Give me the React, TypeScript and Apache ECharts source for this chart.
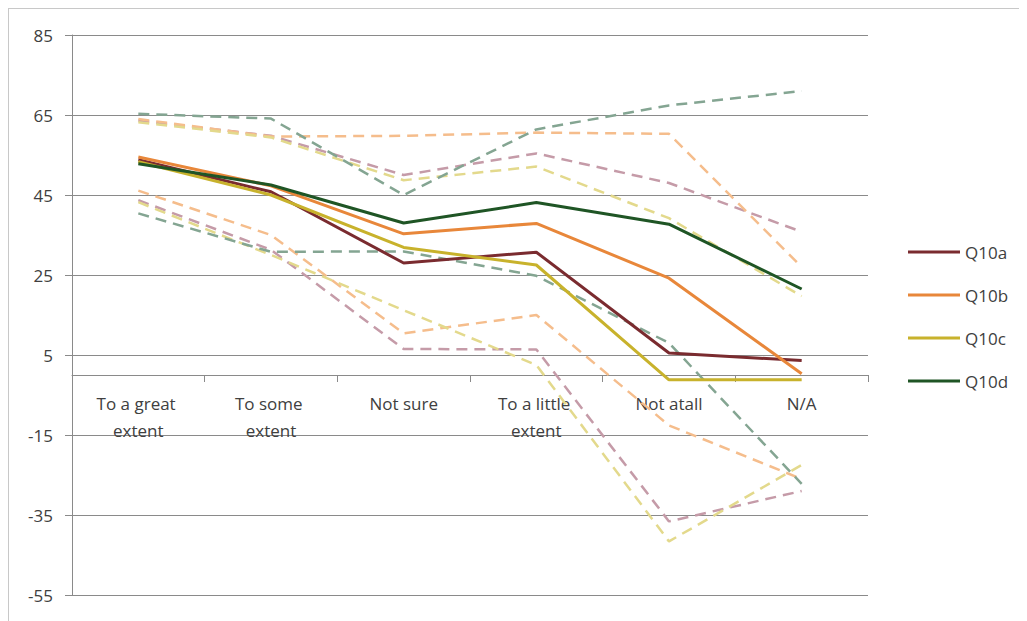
import React, { useEffect, useRef } from "react";
import * as echarts from "echarts";

const categories = ["To a great extent", "To some extent", "Not sure", "To a little extent", "Not atall", "N/A"];

const q10a = [53.8, 45.8, 28.0, 30.7, 5.5, 3.6];
const q10b = [54.5, 47.3, 35.3, 37.9, 24.2, 0.3];
const q10c = [53.3, 45.0, 31.9, 27.5, -1.2, -1.2];
const q10d = [52.8, 47.5, 38.0, 43.1, 37.7, 21.5];

const q10aUpper = [63.6, 59.8, 50.0, 55.4, 48.0, 35.8];
const q10bUpper = [64.0, 59.6, 59.8, 60.6, 60.3, 27.0];
const q10cUpper = [63.2, 59.4, 48.7, 52.1, 39.2, 19.7];
const q10dUpper = [65.3, 64.1, 45.0, 61.4, 67.4, 71.0];

const q10aLower = [43.7, 31.3, 6.5, 6.4, -36.6, -29.0];
const q10bLower = [46.1, 35.0, 10.4, 15.0, -12.6, -26.0];
const q10cLower = [43.2, 30.0, 16.2, 2.5, -41.6, -22.5];
const q10dLower = [40.4, 30.8, 30.9, 24.8, 8.0, -27.2];

const yTicks = { min: -55, max: 85, interval: 20 };

const COLORS = {
  a: "#7a2b2f",
  b: "#e8873a",
  c: "#c8b22c",
  d: "#1f5525",
};
const LIGHT = {
  a: "#c59ba8",
  b: "#f5bd8c",
  c: "#e3d98c",
  d: "#84a592",
};

const FONT = "'Open Sans', sans-serif";
const TEXT = "#404040";
const GRID = "#8a8a8a";

export default function App() {
  const ref = useRef<HTMLDivElement>(null);

  useEffect(() => {
    if (!ref.current) return;
    const chart = echarts.init(ref.current, undefined, { renderer: "svg" });

    const dashed = (name: string, data: number[], color: string) => ({
      name,
      type: "line",
      data,
      symbol: "none",
      silent: true,
      lineStyle: { color, width: 2.5, type: [11, 7] },
      itemStyle: { color },
      z: 2,
    });
    const solid = (name: string, data: number[], color: string) => ({
      name,
      type: "line",
      data,
      symbol: "none",
      lineStyle: { color, width: 3 },
      itemStyle: { color },
      z: 3,
    });

    // plot bottom is at value -55, the category axis sits at value 0: move its labels up
    const labelOffset = -((0 - yTicks.min) / (yTicks.max - yTicks.min)) * 560;

    chart.setOption({
      animation: false,
      backgroundColor: "#ffffff",
      textStyle: { fontFamily: FONT },
      grid: { left: 64, right: 159, top: 27, bottom: 26, containLabel: false, outerBoundsMode: "none" },
      legend: {
        orient: "vertical",
        left: 895,
        top: 229,
        icon: "rect",
        itemWidth: 52,
        itemHeight: 3,
        itemGap: 23,
        data: ["Q10a", "Q10b", "Q10c", "Q10d"],
        textStyle: { fontSize: 17, lineHeight: 20, color: TEXT, fontFamily: FONT },
      },
      xAxis: [
        {
          type: "category",
          data: categories,
          boundaryGap: true,
          axisLine: { show: true, onZero: true, lineStyle: { color: GRID, width: 1 } },
          axisTick: { show: true, length: 7, lineStyle: { color: GRID } },
          axisLabel: { show: false },
          splitLine: { show: false },
        },
        {
          type: "category",
          data: categories,
          boundaryGap: true,
          position: "bottom",
          offset: labelOffset,
          axisLine: { show: false, onZero: false },
          axisTick: { show: false },
          axisLabel: {
            interval: 0,
            margin: 15,
            fontSize: 17,
            lineHeight: 27,
            color: TEXT,
            fontFamily: FONT,
            width: 100,
            overflow: "break",
          },
          splitLine: { show: false },
        },
      ],
      yAxis: {
        type: "value",
        min: yTicks.min,
        max: yTicks.max,
        interval: yTicks.interval,
        axisLine: { show: true, lineStyle: { color: GRID, width: 1 } },
        axisTick: { show: true, length: 7, lineStyle: { color: GRID } },
        axisLabel: { margin: 19, fontSize: 17, color: TEXT, fontFamily: FONT },
        splitLine: { show: true, lineStyle: { color: GRID, width: 1 } },
      },
      series: [
        dashed("Q10a upper", q10aUpper, LIGHT.a),
        dashed("Q10b upper", q10bUpper, LIGHT.b),
        dashed("Q10c upper", q10cUpper, LIGHT.c),
        dashed("Q10d upper", q10dUpper, LIGHT.d),
        dashed("Q10a lower", q10aLower, LIGHT.a),
        dashed("Q10b lower", q10bLower, LIGHT.b),
        dashed("Q10c lower", q10cLower, LIGHT.c),
        dashed("Q10d lower", q10dLower, LIGHT.d),
        solid("Q10a", q10a, COLORS.a),
        solid("Q10b", q10b, COLORS.b),
        solid("Q10c", q10c, COLORS.c),
        solid("Q10d", q10d, COLORS.d),
      ],
    });

    return () => chart.dispose();
  }, []);

  return (
    <div style={{ position: "relative", width: 1019, height: 613 }}>
      <div ref={ref} style={{ position: "absolute", left: 0, top: 0, width: 1019, height: 613 }} />
      <div
        style={{
          position: "absolute",
          left: 0,
          top: 0,
          width: 1019,
          height: 613,
          boxSizing: "border-box",
          borderLeft: "1px solid #c8c8c8",
          borderTop: "1px solid #c8c8c8",
          pointerEvents: "none",
        }}
      />
    </div>
  );
}
